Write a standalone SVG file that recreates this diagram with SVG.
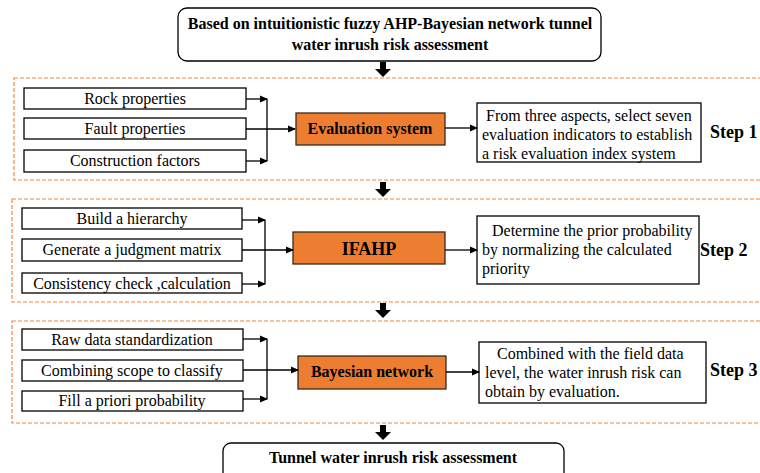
<svg xmlns="http://www.w3.org/2000/svg" width="760" height="473" viewBox="0 0 760 473">
<defs>
<marker id="ah" markerWidth="8" markerHeight="8" refX="7" refY="4" orient="auto" markerUnits="userSpaceOnUse">
<path d="M0,0.5 L8,4 L0,7.5 Z" fill="#000"/>
</marker>
<style>
text{font-family:"Liberation Serif","Times New Roman",serif;fill:#000}
.t{font-size:16px}
.c{text-anchor:middle}
.b{font-weight:bold}
.box{fill:#fff;stroke:#000;stroke-width:1.3}
.org{fill:#ED7D31;stroke:#3a2a1a;stroke-width:1.3}
.sec{fill:none;stroke:#F0883E;stroke-width:1.2;stroke-dasharray:4 2}
.ln{fill:none;stroke:#000;stroke-width:1.3}
.big{fill:#000}
</style>
</defs>

<g id="sections">
<rect class="sec" x="14" y="78" width="760" height="102"/>
<rect class="sec" x="12" y="199" width="760" height="103"/>
<rect class="sec" x="12" y="321" width="760" height="102"/>
</g>

<g id="top">
<rect class="box" x="178" y="8" width="423" height="53" rx="9"/>
<text class="t b c" x="390" y="29">Based on intuitionistic fuzzy AHP-Bayesian network tunnel</text>
<text class="t b c" x="390" y="50">water inrush risk assessment</text>
</g>

<g id="s1-rock"><rect class="box" x="24" y="88" width="222" height="21"/><text class="t c" x="135" y="104">Rock properties</text></g>
<g id="s1-fault"><rect class="box" x="24" y="118" width="222" height="21"/><text class="t c" x="135" y="134">Fault properties</text></g>
<g id="s1-constr"><rect class="box" x="24" y="150" width="222" height="22"/><text class="t c" x="135" y="166">Construction factors</text></g>
<g id="s1-eval"><rect class="org" x="296" y="113" width="149" height="32"/><text class="t b c" x="370" y="134">Evaluation system</text></g>
<g id="s1-desc"><rect class="box" x="477" y="103" width="224" height="59"/>
<text class="t" x="486" y="121">From three aspects, select seven</text>
<text class="t" x="482" y="140">evaluation indicators to establish</text>
<text class="t" x="482" y="159">a risk evaluation index system</text></g>
<g id="step1"><text class="b" font-size="18" x="710" y="138">Step 1</text></g>

<g id="s2-build"><rect class="box" x="22" y="208" width="220" height="21"/><text class="t c" x="132" y="224">Build a hierarchy</text></g>
<g id="s2-gen"><rect class="box" x="22" y="239" width="220" height="22"/><text class="t c" x="132" y="255">Generate a judgment matrix</text></g>
<g id="s2-cons"><rect class="box" x="22" y="273" width="220" height="20"/><text class="t c" x="132" y="289">Consistency check ,calculation</text></g>
<g id="s2-ifahp"><rect class="org" x="293" y="232" width="152" height="32"/><text class="b c" font-size="18" x="369" y="255">IFAHP</text></g>
<g id="s2-desc"><rect class="box" x="477" y="216" width="222" height="68"/>
<text class="t" x="492" y="236">Determine the prior probability</text>
<text class="t" x="482" y="255">by normalizing the calculated</text>
<text class="t" x="482" y="274">priority</text></g>
<g id="step2"><text class="b" font-size="18" x="700" y="256">Step 2</text></g>

<g id="s3-raw"><rect class="box" x="22" y="329" width="221" height="21"/><text class="t c" x="132" y="345">Raw data standardization</text></g>
<g id="s3-comb"><rect class="box" x="22" y="360" width="221" height="21"/><text class="t c" x="132" y="376">Combining scope to classify</text></g>
<g id="s3-fill"><rect class="box" x="22" y="391" width="221" height="20"/><text class="t c" x="132" y="406">Fill a priori probability</text></g>
<g id="s3-bayes"><rect class="org" x="298" y="356" width="148" height="33"/><text class="t b c" x="372" y="377">Bayesian network</text></g>
<g id="s3-desc"><rect class="box" x="479" y="342" width="227" height="61"/>
<text class="t" x="497" y="359">Combined with the field data</text>
<text class="t" x="485" y="378">level, the water inrush risk can</text>
<text class="t" x="485" y="397">obtain by evaluation.</text></g>
<g id="step3"><text class="b" font-size="18" x="710" y="376">Step 3</text></g>

<g id="bottom">
<rect class="box" x="223" y="443" width="341" height="40" rx="8"/>
<text class="t b c" x="393" y="463">Tunnel water inrush risk assessment</text>
</g>

<g id="connectors">
<path class="big" d="M380,62 h6 v7 h5 l-8,8 l-8,-8 h5 z"/>
<path class="big" d="M380,182 h6 v7 h5 l-8,8 l-8,-8 h5 z"/>
<path class="big" d="M380,303 h6 v7 h5 l-8,8 l-8,-8 h5 z"/>
<path class="big" d="M380,425 h6 v7 h5 l-8,8 l-8,-8 h5 z"/>

<path class="ln" d="M246,99 H267" marker-end="url(#ah)"/>
<path class="ln" d="M246,161 H267" marker-end="url(#ah)"/>
<path class="ln" d="M267,99 V161"/>
<path class="ln" d="M246,129 H295" marker-end="url(#ah)"/>
<path class="ln" d="M445,128 H477" marker-end="url(#ah)"/>

<path class="ln" d="M242,220 H265" marker-end="url(#ah)"/>
<path class="ln" d="M242,284 H265" marker-end="url(#ah)"/>
<path class="ln" d="M265,220 V284"/>
<path class="ln" d="M242,250 H293" marker-end="url(#ah)"/>
<path class="ln" d="M445,250 H477" marker-end="url(#ah)"/>

<path class="ln" d="M243,339 H267" marker-end="url(#ah)"/>
<path class="ln" d="M243,399 H267" marker-end="url(#ah)"/>
<path class="ln" d="M267,339 V399"/>
<path class="ln" d="M243,370 H298" marker-end="url(#ah)"/>
<path class="ln" d="M446,372 H479" marker-end="url(#ah)"/>
</g>
</svg>
